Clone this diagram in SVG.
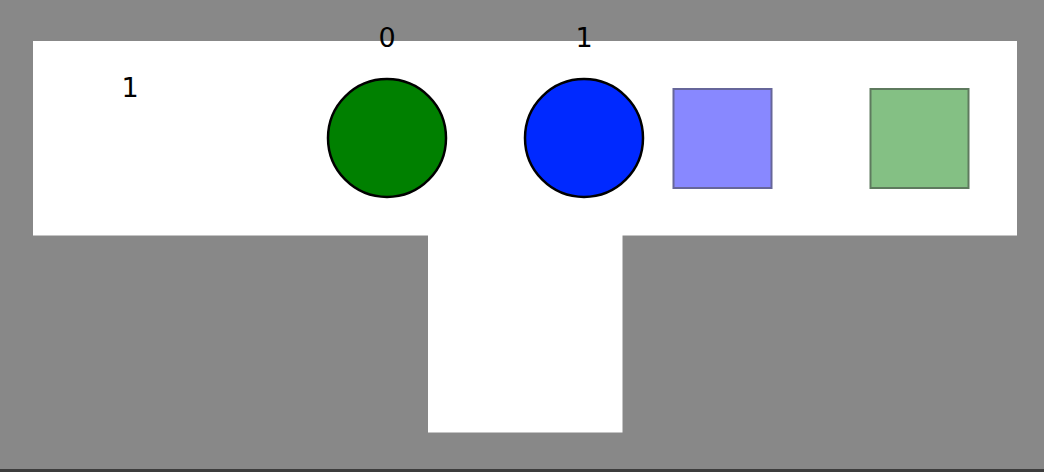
<svg xmlns="http://www.w3.org/2000/svg" width="1044" height="472" viewBox="0 0 1044 472">
  <style>
    .lbl { font-family: "DejaVu Sans", sans-serif; font-size: 27px; fill: #000; text-anchor: middle; }
    .circ { stroke: #000; stroke-width: 2.5; }
    .sq { stroke-width: 2; }
  </style>
  <rect x="0" y="0" width="1044" height="472" fill="#888888"/>
  <rect x="0" y="469" width="1044" height="3" fill="#3c3c3c"/>
  <g id="region">
    <path d="M33 41 H1017 V235.5 H622.5 V432.5 H428 V235.5 H33 Z" fill="#ffffff"/>
  </g>
  <g id="label-left">
    <text class="lbl" x="130" y="97">1</text>
  </g>
  <g id="node-0">
    <circle class="circ" cx="387" cy="138" r="59" fill="#008000"/>
    <text class="lbl" x="387" y="47">0</text>
  </g>
  <g id="node-1">
    <circle class="circ" cx="584" cy="138" r="59" fill="#0029ff"/>
    <text class="lbl" x="584" y="47">1</text>
  </g>
  <g id="square-blue">
    <rect class="sq" x="673.5" y="89" width="98" height="99" fill="#8888ff" stroke="#66669a"/>
  </g>
  <g id="square-green">
    <rect class="sq" x="870.5" y="89" width="98" height="99" fill="#84c084" stroke="#5e7a5e"/>
  </g>
  <g id="connectors"></g>
</svg>
